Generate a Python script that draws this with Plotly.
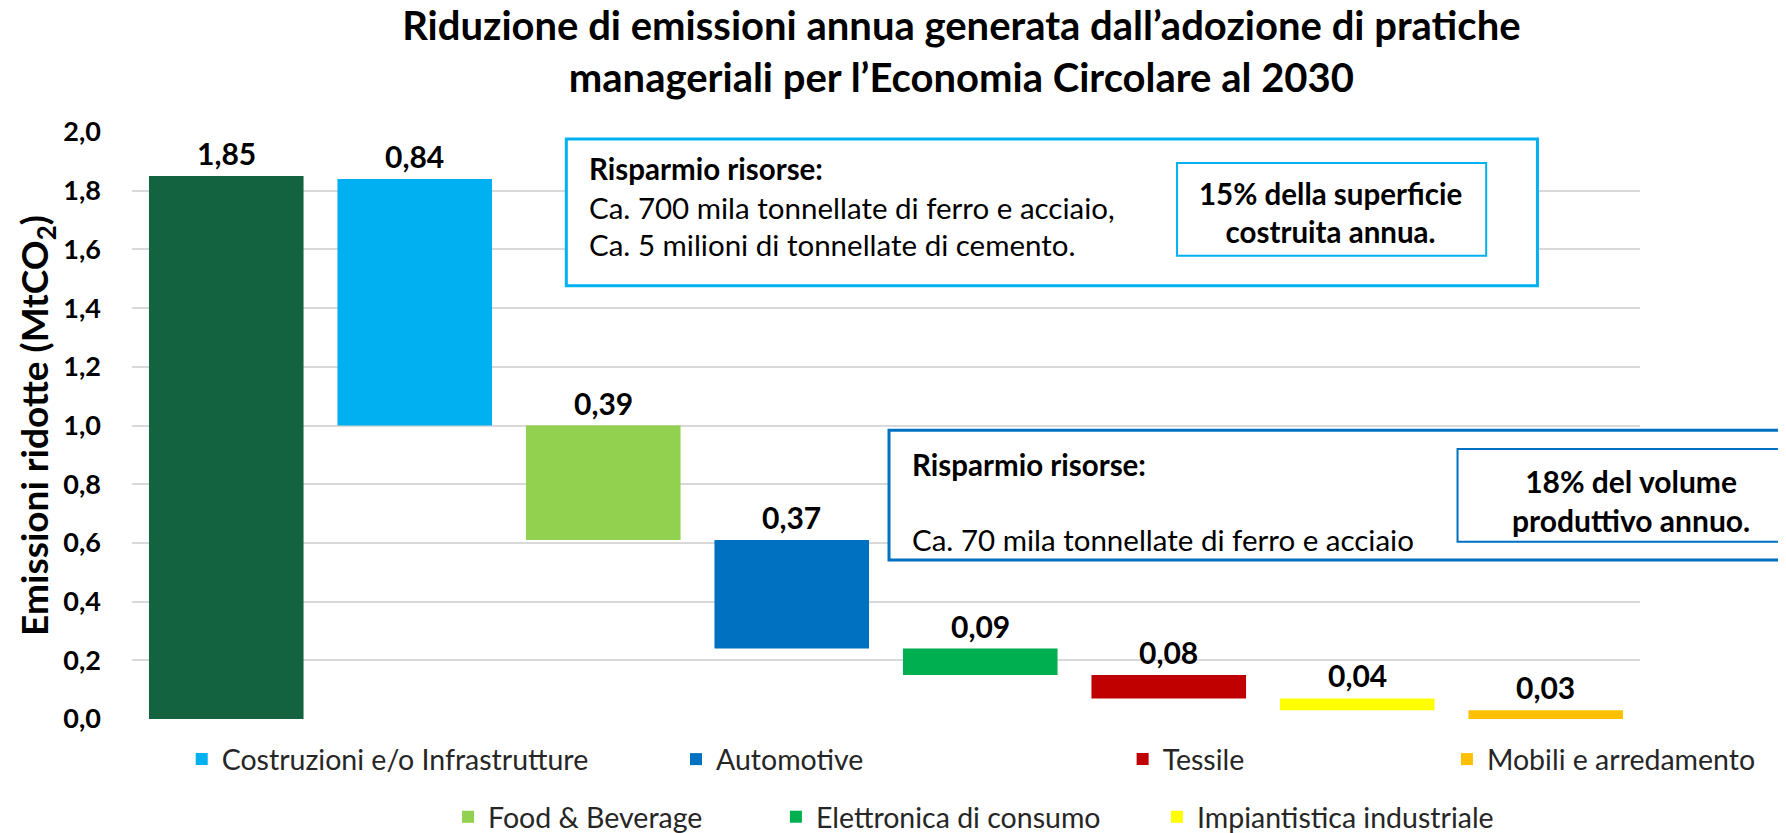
import plotly.graph_objects as go

categories = ["Totale", "Costruzioni e/o Infrastrutture", "Food & Beverage", "Automotive",
              "Elettronica di consumo", "Tessile", "Impiantistica industriale", "Mobili e arredamento"]
values = [1.85, 0.84, 0.39, 0.37, 0.09, 0.08, 0.04, 0.03]
colors = ["#136240", "#00B0F0", "#92D050", "#0070C0", "#00B050", "#C00000", "#FFFF00", "#FFC000"]
y_ticks = [0.0, 0.2, 0.4, 0.6, 0.8, 1.0, 1.2, 1.4, 1.6, 1.8, 2.0]

# legend placement (container coordinates) for each category legend entry
legend_pos = {
    "Costruzioni e/o Infrastrutture": (0.0977, 0.0890),
    "Automotive": (0.3757, 0.0890),
    "Tessile": (0.6269, 0.0890),
    "Mobili e arredamento": (0.8093, 0.0890),
    "Food & Beverage": (0.2475, 0.0190),
    "Elettronica di consumo": (0.4319, 0.0190),
    "Impiantistica industriale": (0.6462, 0.0190),
}

FONT = "Lato"

# bases: first bar from 0, others stack down from the bottom
bases = [0.0] + [sum(values[i + 1:]) for i in range(1, len(values))]

fig = go.Figure()
legend_names = {}
for k, cat in enumerate(legend_pos, start=1):
    legend_names[cat] = "legend" if k == 1 else f"legend{k}"

for i, (cat, v, c, b) in enumerate(zip(categories, values, colors, bases)):
    fig.add_trace(go.Bar(
        x=[cat], y=[v], base=[b], name=cat,
        marker=dict(color=c, line=dict(width=0)),
        width=0.82,
        showlegend=(i > 0),
        legend=legend_names.get(cat, "legend"),
        hoverinfo="skip",
    ))
    fig.add_annotation(
        x=cat, y=b + v, xref="x", yref="y",
        text=f"<b>{v:.2f}</b>".replace(".", ","),
        showarrow=False, yanchor="middle", yshift=23,
        font=dict(family=FONT, size=30, color="black"),
    )

layout_legends = {}
for cat, (lx, ly) in legend_pos.items():
    layout_legends[legend_names[cat]] = dict(
        x=lx, y=ly, xref="container", yref="container",
        xanchor="left", yanchor="middle",
        orientation="h", bgcolor="rgba(0,0,0,0)",
        font=dict(family=FONT, size=28.5, color="#262626"),
        itemclick=False, itemdoubleclick=False,
    )

fig.update_layout(
    width=1778, height=825,
    margin=dict(l=124, r=146, t=124, b=114, autoexpand=False),
    paper_bgcolor="white", plot_bgcolor="white",
    barmode="overlay",
    separators=",.",
    font=dict(family=FONT, color="black"),
    title=dict(
        text="<b>Riduzione di emissioni annua generata dall’adozione di pratiche<br>manageriali per l’Economia Circolare al 2030</b>",
        x=0.5362, xanchor="center", y=0.961, yanchor="top",
        font=dict(family=FONT, size=40, color="black"),
    ),
    xaxis=dict(
        type="category", categoryorder="array", categoryarray=categories,
        showticklabels=False, showgrid=False, zeroline=False, showline=False,
        range=[-0.5, len(categories) - 0.5], automargin=False,
    ),
    yaxis=dict(
        range=[0, 2.0], tickvals=y_ticks, tickformat=".1f",
        showgrid=True, gridcolor="#D9D9D9", gridwidth=2,
        zeroline=False, showline=False, automargin=False,
        tickfont=dict(family=FONT, size=27, color="black", weight="bold"),
        ticklabelstandoff=30,
        title=dict(text="<b>Emissioni ridotte (MtCO<sub>2</sub>)</b>",
                   font=dict(family=FONT, size=37, color="black"), standoff=3),
    ),
    **layout_legends,
)

TXT = 29.5
# Annotation box 1 (Costruzioni)
fig.add_shape(type="rect", xref="paper", yref="paper", x0=0.288, x1=0.932, y0=0.738, y1=0.988,
              line=dict(color="#00B0F0", width=3), fillcolor="white", layer="above")
fig.add_shape(type="rect", xref="paper", yref="paper", x0=0.693, x1=0.898, y0=0.789, y1=0.947,
              line=dict(color="#00B0F0", width=2), fillcolor="white", layer="above")
box1_lines = ["<b>Risparmio risorse:</b>", "Ca. 700 mila tonnellate di ferro e acciaio,",
              "Ca. 5 milioni di tonnellate di cemento."]
for t, yy in zip(box1_lines, [0.938, 0.871, 0.809]):
    fig.add_annotation(x=0.302, y=yy, xref="paper", yref="paper", text=t, showarrow=False,
                       xanchor="left", yanchor="middle", font=dict(family=FONT, size=TXT, color="black"))
fig.add_annotation(x=0.795, y=0.863, xref="paper", yref="paper",
                   text="<b>15% della superficie</b><br><b>costruita annua.</b>",
                   showarrow=False, xanchor="center", yanchor="middle", align="center",
                   font=dict(family=FONT, size=TXT, color="black"))

# Annotation box 2 (Automotive)
fig.add_shape(type="rect", xref="paper", yref="paper", x0=0.502, x1=1.2, y0=0.271, y1=0.492,
              line=dict(color="#0070C0", width=3), fillcolor="white", layer="above")
fig.add_shape(type="rect", xref="paper", yref="paper", x0=0.879, x1=1.2, y0=0.302, y1=0.460,
              line=dict(color="#0070C0", width=2), fillcolor="white", layer="above")
fig.add_annotation(x=0.516, y=0.434, xref="paper", yref="paper", text="<b>Risparmio risorse:</b>",
                   showarrow=False, xanchor="left", yanchor="middle",
                   font=dict(family=FONT, size=TXT, color="black"))
fig.add_annotation(x=0.516, y=0.305, xref="paper", yref="paper",
                   text="Ca. 70 mila tonnellate di ferro e acciaio",
                   showarrow=False, xanchor="left", yanchor="middle",
                   font=dict(family=FONT, size=TXT, color="black"))
fig.add_annotation(x=0.994, y=0.373, xref="paper", yref="paper",
                   text="<b>18% del volume</b><br><b>produttivo annuo.</b>",
                   showarrow=False, xanchor="center", yanchor="middle", align="center",
                   font=dict(family=FONT, size=30, color="black"))

fig.write_html("out.html")
